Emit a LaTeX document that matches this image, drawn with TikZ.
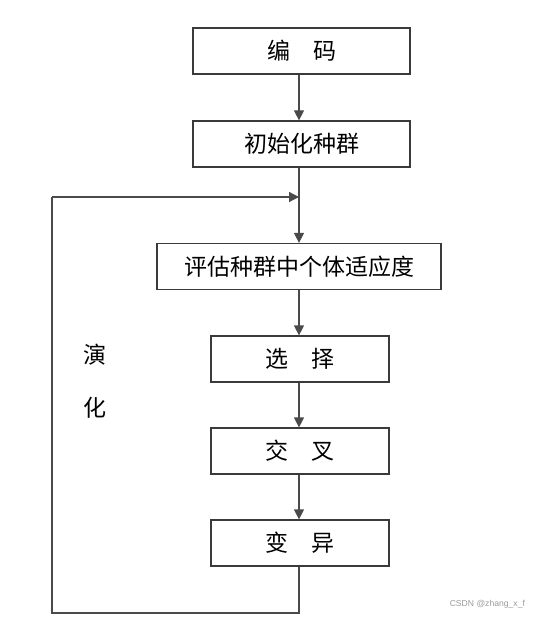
\documentclass[tikz,border=0pt]{standalone}
\usepackage{fontspec}
\setsansfont{Liberation Sans}
\newfontfamily\cjk{Noto Sans CJK SC}
\usepackage{tikz}
\usetikzlibrary{arrows.meta}
\definecolor{kutuCizgi}{HTML}{3A3A3A}
\definecolor{okGri}{HTML}{4A4A4A}
\definecolor{suGri}{HTML}{9A9A9A}
\tikzset{
  kutu/.style={draw=kutuCizgi,line width=0.6pt,minimum height=23pt,inner sep=0pt,font=\cjk\fontsize{11.5}{13}\selectfont},
  ok/.style={okGri,line width=0.6pt,-{Triangle[length=5pt,width=5pt]}},
  hat/.style={okGri,line width=0.6pt}
}
\begin{document}
\begin{tikzpicture}[x=0.5pt,y=-0.5pt]
\useasboundingbox (0,0) rectangle (537,630);
\node[kutu,minimum width=108.5pt] (kodla) at (301.5,51) {编\hspace{1em}码};
\node[kutu,minimum width=108.5pt] (baslat) at (301.5,144) {初始化种群};
\node[kutu,minimum width=142pt] (degerle) at (299,266.5) {评估种群中个体适应度};
\node[kutu,minimum width=89pt] (sec) at (300,359) {选\hspace{1em}择};
\node[kutu,minimum width=89pt] (caprazla) at (300,451) {交\hspace{1em}叉};
\node[kutu,minimum width=89pt] (mutasyon) at (300,543) {变\hspace{1em}异};
\coordinate (birles) at (299,197);
\coordinate (altSag) at (299,613);
\coordinate (altSol) at (52,613);
\coordinate (ustSol) at (52,197);
\draw[ok] (kodla.south -| 299,0) -- (baslat.north -| 299,0);
\draw[ok] (baslat.south -| 299,0) -- (degerle.north -| 299,0);
\draw[ok] (degerle.south -| 299,0) -- (sec.north -| 299,0);
\draw[ok] (sec.south -| 299,0) -- (caprazla.north -| 299,0);
\draw[ok] (caprazla.south -| 299,0) -- (mutasyon.north -| 299,0);
\draw[hat] (mutasyon.south -| altSag) -- (altSag) -- (altSol) -- (ustSol);
\draw[ok] (ustSol) -- (birles);
\node[font=\cjk\fontsize{11.5}{13}\selectfont] (yan1) at (95,355) {演};
\node[font=\cjk\fontsize{11.5}{13}\selectfont] (yan2) at (95,408) {化};
\node[suGri,font=\sffamily\fontsize{4.3}{5}\selectfont,anchor=east] (isaret) at (532,604) {CSDN @zhang\_x\_f};
\end{tikzpicture}
\end{document}
